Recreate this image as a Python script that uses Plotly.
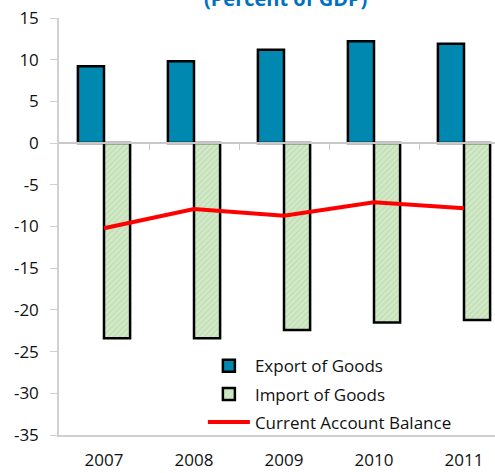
import plotly.graph_objects as go

years = ["2007", "2008", "2009", "2010", "2011"]
export_goods = [9.2, 9.8, 11.2, 12.2, 11.9]
import_goods = [-23.4, -23.4, -22.4, -21.5, -21.2]
current_account = [-10.2, -7.9, -8.7, -7.1, -7.8]
y_ticks = [15, 10, 5, 0, -5, -10, -15, -20, -25, -30, -35]
y_tick_text = ["15", "10", "5", "0", "-5", "-10", "-15", "-20", "-25", "-30", "-35"]

xpos = list(range(len(years)))

fig = go.Figure()
fig.add_trace(go.Bar(
    x=xpos, y=export_goods, name="Export of Goods", legendgroup="a",
    marker=dict(color="#0088B0", line=dict(color="black", width=2.5)),
))
fig.add_trace(go.Bar(
    x=xpos, y=import_goods, name="Import of Goods", legendgroup="b",
    marker=dict(color="#cde6c2", line=dict(color="black", width=2.5),
                pattern=dict(shape="/", fgcolor="#a8cf98", bgcolor="#d2e9c8", size=4, solidity=0.3)),
))
fig.add_trace(go.Scatter(
    x=xpos, y=current_account, name="Current Account Balance", mode="lines", legendgroup="c",
    line=dict(color="#ff0000", width=4),
))
# helper axis at zero for the category boundary ticks
fig.add_trace(go.Scatter(x=[None], y=[None], xaxis="x2", showlegend=False, hoverinfo="skip"))

xr = [-0.5, 4.5 - 14 / 90]
fig.update_layout(
    width=495, height=473,
    margin=dict(l=59, r=0, t=18, b=38),
    paper_bgcolor="white", plot_bgcolor="white",
    font=dict(family="Open Sans, Noto Sans, sans-serif", size=17, color="#111111"),
    barmode="group", bargap=0.42, bargroupgap=0,
    showlegend=True,
    legend=dict(x=0.33, y=0.208, xanchor="left", yanchor="top",
                bgcolor="rgba(255,255,255,0)", font=dict(size=17, color="#111111"),
                itemwidth=42, traceorder="grouped", tracegroupgap=3),
    xaxis=dict(range=xr, tickvals=xpos, ticktext=years, showgrid=False, zeroline=False,
               showline=True, linecolor="#d0d0d0", linewidth=1.5, ticks="", ticklabelstandoff=9),
    xaxis2=dict(range=xr, overlaying="x", anchor="free", position=35 / 50,
                tickvals=[0.5, 1.5, 2.5, 3.5], ticks="outside", ticklen=6, tickcolor="#c8c8c8",
                showticklabels=False, showline=True, linecolor="#c8c8c8", linewidth=1.5,
                showgrid=False, zeroline=False, side="bottom"),
    yaxis=dict(range=[-35, 15], tickvals=y_ticks, ticktext=y_tick_text, showgrid=False, zeroline=False,
               showline=True, linecolor="#d0d0d0", linewidth=1.5, ticks="outside", ticklen=7,
               tickcolor="#d0d0d0", ticklabelstandoff=8),
    annotations=[dict(text="<b>(Percent of GDP)</b>", xref="paper", yref="paper", x=0.52, y=1 + 4 / 417,
                      xanchor="center", yanchor="bottom", showarrow=False,
                      font=dict(size=20, color="#0070C0"))],
)

fig.write_html("out.html")
